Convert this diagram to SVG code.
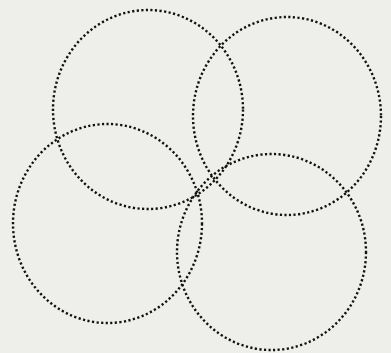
<svg xmlns="http://www.w3.org/2000/svg" width="391" height="353" viewBox="0 0 391 353">
<style>
.c{fill:none;stroke:#111;stroke-width:2.4;stroke-dasharray:2.2 2.4}
</style>
<rect width="391" height="353" fill="#eeeeea"/>
<g id="circle1"><ellipse class="c" cx="148" cy="109.5" rx="95" ry="99.5"/></g>
<g id="circle2"><ellipse class="c" cx="287" cy="116" rx="94" ry="99"/></g>
<g id="circle3"><ellipse class="c" cx="107.5" cy="223.5" rx="94.5" ry="99.5"/></g>
<g id="circle4"><ellipse class="c" cx="271.5" cy="252" rx="94.5" ry="98"/></g>
</svg>
